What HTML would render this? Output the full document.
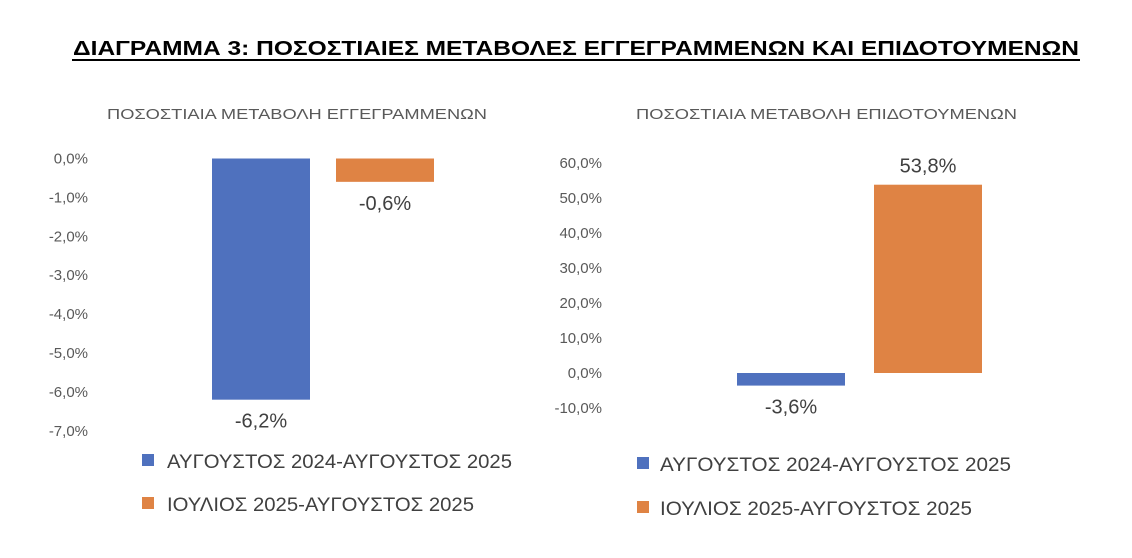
<!DOCTYPE html>
<html><head><meta charset="utf-8"><style>
body{margin:0;background:#fff;width:1132px;height:553px;overflow:hidden;font-family:"Liberation Sans","DejaVu Sans",sans-serif}
</style></head><body>
<svg width="1132" height="553" xmlns="http://www.w3.org/2000/svg" font-family="Liberation Sans, DejaVu Sans, sans-serif">
<text x="73" y="55" textLength="1006" lengthAdjust="spacingAndGlyphs" font-size="20" font-weight="bold" fill="#000">ΔΙΑΓΡΑΜΜΑ 3: ΠΟΣΟΣΤΙΑΙΕΣ ΜΕΤΑΒΟΛΕΣ ΕΓΓΕΓΡΑΜΜΕΝΩΝ ΚΑΙ ΕΠΙΔΟΤΟΥΜΕΝΩΝ</text>
<line x1="72" y1="60" x2="1080" y2="60" stroke="#000" stroke-width="2"/>
<text x="107" y="119" textLength="380" lengthAdjust="spacingAndGlyphs" font-size="15" fill="#595959">ΠΟΣΟΣΤΙΑΙΑ ΜΕΤΑΒΟΛΗ ΕΓΓΕΓΡΑΜΜΕΝΩΝ</text>
<text x="636" y="119" textLength="381" lengthAdjust="spacingAndGlyphs" font-size="15" fill="#595959">ΠΟΣΟΣΤΙΑΙΑ ΜΕΤΑΒΟΛΗ ΕΠΙΔΟΤΟΥΜΕΝΩΝ</text>
<g id="left"></g><g id="right"></g>
<rect x="142" y="454" width="12" height="12" fill="#4f71be"/>
<text x="167" y="468" textLength="345" lengthAdjust="spacingAndGlyphs" font-size="19" fill="#404040">ΑΥΓΟΥΣΤΟΣ 2024-ΑΥΓΟΥΣΤΟΣ 2025</text>
<rect x="142" y="497" width="12" height="12" fill="#df8344"/>
<text x="167" y="511" textLength="307" lengthAdjust="spacingAndGlyphs" font-size="19" fill="#404040">ΙΟΥΛΙΟΣ 2025-ΑΥΓΟΥΣΤΟΣ 2025</text>
<rect x="637" y="457" width="12" height="12" fill="#4f71be"/>
<text x="660" y="471" textLength="351" lengthAdjust="spacingAndGlyphs" font-size="19" fill="#404040">ΑΥΓΟΥΣΤΟΣ 2024-ΑΥΓΟΥΣΤΟΣ 2025</text>
<rect x="637" y="501" width="12" height="12" fill="#df8344"/>
<text x="660" y="515" textLength="312" lengthAdjust="spacingAndGlyphs" font-size="19" fill="#404040">ΙΟΥΛΙΟΣ 2025-ΑΥΓΟΥΣΤΟΣ 2025</text>
</svg>
<script>
const leftValues=[-6.2,-0.6];
const leftTicks=[0,-1,-2,-3,-4,-5,-6,-7];
const rightValues=[-3.6,53.8];
const rightTicks=[60,50,40,30,20,10,0,-10];
const colors=['#4f71be','#df8344'];
const NS='http://www.w3.org/2000/svg';
function fmt(v){return v.toFixed(1).replace('.',',')+'%';}
function mk(tag,attrs,parent){const e=document.createElementNS(NS,tag);for(const k in attrs)e.setAttribute(k,attrs[k]);parent.appendChild(e);return e;}
function draw(gid,values,ticks,zeroY,ppu,tickX,barXs,barW,side){
  const g=document.getElementById(gid);
  const y=v=>zeroY-v*ppu;
  ticks.forEach(t=>{
    const tx=mk('text',{x:tickX,y:y(t)+5,'text-anchor':'end','font-size':15,fill:'#595959'},g);
    
    
    tx.textContent=fmt(t);
  });
  values.forEach((v,i)=>{
    const top=Math.min(y(v),y(0)),h=Math.abs(y(v)-y(0));
    const r=mk('rect',{x:barXs[i],y:top,width:barW,height:h,fill:colors[i]},g);
    
    
    const ly=v<0?y(v)+28:y(v)-12;
    const t=mk('text',{x:barXs[i]+barW/2,y:ly,'text-anchor':'middle','font-size':20,fill:'#404040'},g);
    
    
    t.textContent=fmt(v);
  });
}
draw('left',leftValues,leftTicks,158.5,38.9,88,[212,336],98,'left');
draw('right',rightValues,rightTicks,373,3.5,602,[737,874],108,'right');
</script>
</body></html>
